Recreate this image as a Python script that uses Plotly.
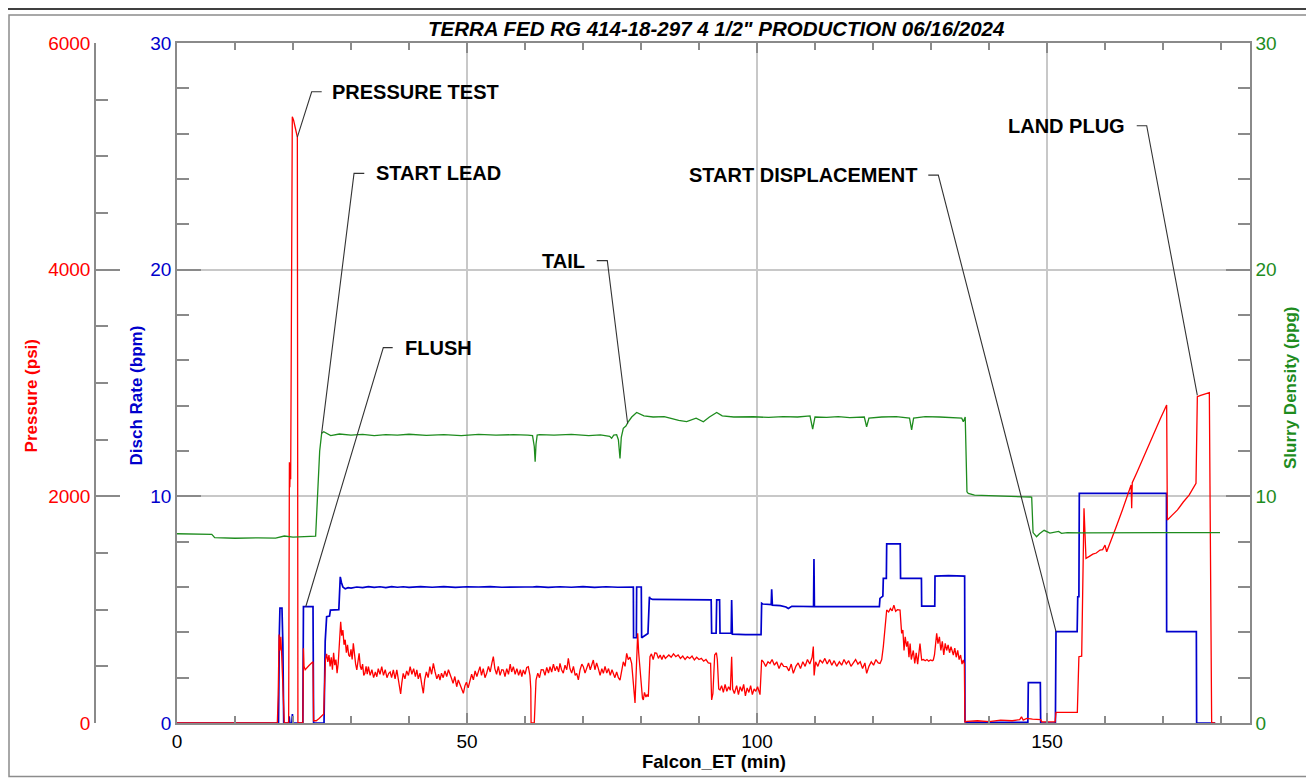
import plotly.graph_objects as go

# ---------------- DATA ----------------
# Pressure (psi) vs Falcon_ET (min), in segments
PRES_T_A = [0, 17.3, 17.45, 17.6, 17.75, 17.9, 18.05, 18.2, 18.35, 18.5, 19.25, 19.3, 19.38, 19.45, 19.52, 19.6,
            19.88, 20.1, 20.4, 20.75, 20.85, 21.7, 21.8, 21.9, 22.1, 22.4, 22.8, 23.2, 23.45, 23.55, 24.0, 24.5,
            25.0, 25.3, 25.45]
PRES_V_A = [0, 0, 250, 780, 640, 760, 600, 330, 100, 0, 0, 2150, 2300, 2080, 2260, 2150,
            5350, 5320, 5250, 5170, 0, 0, 660, 500, 470, 490, 510, 530, 540, 20, 20, 40,
            60, 80, 350]

PRES_T_B1 = [25.6, 25.8, 26.0, 26.2, 26.4, 26.6, 26.8, 27.0, 27.2, 27.4, 27.6, 27.8, 28.0, 28.22, 28.4, 28.6,
             28.8, 29.0, 29.2, 29.4, 29.6, 29.8, 30.0, 30.2, 30.4, 30.6, 30.8, 31.0, 31.2, 31.4, 31.6, 31.8,
             32.0, 32.2, 32.4, 32.6, 32.8, 33.0, 33.3, 33.6, 33.9, 34.2, 34.45, 34.7, 35.0, 35.3, 35.6, 35.9,
             36.2, 36.5, 36.75, 37.0, 37.3, 37.6, 37.9, 38.2, 38.4, 38.56, 38.75, 39.0, 39.3, 39.6, 39.9, 40.2,
             40.5, 40.8, 41.1, 41.35, 41.6, 41.9, 42.2, 42.47, 42.7, 43.0, 43.3, 43.6, 43.9, 44.2, 44.5, 44.8]
PRES_V_B1 = [560, 610, 540, 600, 500, 580, 470, 620, 510, 560, 440, 530, 700, 894, 770, 820,
             690, 735, 620, 690, 600, 585, 650, 560, 703, 580, 520, 468, 540, 615, 500, 470,
             520, 420, 438, 500, 430, 497, 420, 470, 400, 450, 408, 480, 430, 497, 420, 470,
             400, 438, 450, 400, 468, 390, 468, 380, 320, 256, 350, 438, 390, 460, 420, 497,
             430, 480, 410, 468, 390, 440, 340, 262, 380, 450, 400, 497, 430, 526, 450, 390]

PRES_T_B2 = [45.1, 45.34, 45.6, 45.9, 46.2, 46.5, 46.8, 47.07, 47.35, 47.6, 47.9, 48.22, 48.5, 48.8, 49.1, 49.37,
             49.65, 49.9, 50.2, 50.52, 50.8, 51.1, 51.4, 51.7, 52.0, 52.24, 52.5, 52.8, 53.1, 53.39, 53.7, 54.0,
             54.3, 54.54, 54.8, 55.1, 55.4, 55.7, 56.0, 56.26, 56.55, 56.85, 57.15, 57.45, 57.7, 57.99, 58.3, 58.6,
             58.9, 59.2, 59.45, 59.71, 60.0, 60.3, 60.57, 60.85, 61.0, 61.05, 61.6, 61.75, 61.9, 62.2, 62.5, 62.8]
PRES_V_B2 = [430, 379, 440, 400, 460, 410, 470, 438, 390, 350, 410, 320, 380, 340, 300, 262,
             330, 360, 310, 379, 430, 380, 460, 410, 470, 497, 420, 480, 400, 438, 500, 450,
             530, 585, 480, 430, 500, 420, 470, 468, 410, 480, 430, 520, 450, 497, 430, 480,
             420, 470, 410, 468, 430, 490, 497, 420, 300, 0, 0, 250, 379, 440, 400, 470]

PRES_T_B3 = [63.16, 63.45, 63.75, 64.05, 64.31, 64.6, 64.9, 65.2, 65.5, 65.8, 66.03, 66.3, 66.6, 66.9, 67.2, 67.47,
             67.75, 68.05, 68.35, 68.65, 68.91, 69.2, 69.5, 69.8, 70.06, 70.35, 70.65, 70.95, 71.25, 71.5, 71.78, 72.05,
             72.35, 72.65, 72.95, 73.25, 73.51, 73.8, 74.1, 74.4, 74.7, 75.0, 75.23, 75.5, 75.8, 76.1, 76.38, 76.65,
             76.95, 77.25, 77.53, 77.8, 78.1, 78.39, 78.65, 78.85, 78.97, 79.15, 79.3, 79.43, 79.6, 79.83, 80.05, 80.25,
             80.4, 80.6, 80.85, 81.05, 81.26, 81.4, 81.55, 81.8, 82.1, 82.4, 82.7, 83.0, 83.3, 83.6, 83.9, 84.2, 84.43]
PRES_V_B3 = [468, 420, 490, 440, 497, 450, 520, 460, 500, 450, 526, 470, 440, 510, 470, 570,
             480, 440, 500, 420, 438, 380, 470, 520, 497, 440, 490, 530, 470, 520, 556, 470,
             530, 480, 420, 480, 438, 500, 440, 480, 420, 470, 438, 400, 450, 400, 379, 460,
             540, 500, 615, 560, 580, 526, 400, 250, 176, 450, 700, 791, 620, 468, 330, 220,
             203, 270, 230, 250, 232, 400, 585, 610, 560, 620, 615, 570, 600, 560, 600, 570, 585]

PRES_T_C = [84.8, 85.2, 85.6, 86.0, 86.4, 86.8, 87.2, 87.6, 88.0, 88.4,
            88.8, 89.2, 89.6, 90.0, 90.4, 90.8, 91.2, 91.6, 92.0, 92.18,
            92.4, 92.7, 93.0, 93.16, 93.4, 93.62, 93.9, 94.2, 94.5, 94.8,
            95.1, 95.4, 95.63, 95.8, 96.1, 96.49, 96.8, 97.1, 97.4, 97.7,
            98.0, 98.3, 98.6, 98.9, 99.2, 99.5, 99.8, 100.1, 100.52, 100.8,
            101.1, 101.5, 101.9, 102.24, 102.6, 103.0, 103.4, 103.8, 104.2, 104.6,
            105.1, 105.5, 105.9, 106.26, 106.7, 107.1, 107.5, 107.9, 108.3, 108.7,
            109.1, 109.5, 109.71, 109.85, 110.1, 110.5, 110.86, 111.3, 111.7, 112.1,
            112.5, 112.9, 113.3, 113.74, 114.2, 114.6, 115.0, 115.4, 115.8, 116.2,
            116.61, 117.0, 117.4, 117.8, 118.2, 118.6, 118.91, 119.3, 119.7, 120.1,
            120.5, 120.9, 121.21, 121.5, 121.78, 122.0, 122.36, 122.7, 123.0, 123.3,
            123.6, 123.9, 124.2, 124.66, 124.94, 125.15, 125.35, 125.55, 125.8, 126.0,
            126.2, 126.4, 126.6, 126.95, 127.2, 127.45, 127.7, 128.1, 128.39, 128.7,
            129.0, 129.3, 129.6, 129.9, 130.2, 130.4, 130.6, 130.98, 131.2, 131.45,
            131.7, 131.95, 132.2, 132.45, 132.7, 132.95, 133.2, 133.45, 133.85, 134.1,
            134.35, 134.6, 134.85, 135.1, 135.35, 135.57, 135.75, 135.85]
PRES_V_C = [600, 580, 610, 585, 600, 570, 590, 560, 585, 570,
            590, 556, 580, 560, 570, 545, 560, 530, 526, 203,
            260, 600, 620, 560, 300, 291, 330, 270, 340, 280,
            320, 290, 585, 300, 260, 330, 250, 320, 280, 340,
            240, 310, 270, 330, 250, 300, 280, 320, 250, 556,
            540, 500, 540, 526, 560, 510, 540, 480, 530, 500,
            497, 460, 520, 438, 500, 530, 480, 540, 500, 560,
            520, 580, 674, 420, 540, 500, 556, 530, 570, 520,
            560, 510, 550, 500, 540, 510, 560, 520, 550, 500,
            526, 560, 520, 540, 480, 530, 438, 500, 540, 510,
            560, 530, 526, 560, 674, 800, 997, 980, 1010, 990,
            1040, 985, 1000, 997, 791, 820, 640, 760, 674, 720,
            580, 700, 560, 640, 526, 620, 520, 700, 556, 560,
            550, 560, 545, 556, 550, 556, 600, 791, 700, 760,
            640, 720, 600, 703, 640, 690, 620, 674, 600, 660,
            580, 640, 560, 600, 520, 556, 520, 10]

PRES_T_D = [136.2, 138, 140, 142, 144, 145.3, 145.6, 145.9, 146.5, 147.5, 148.9, 149.1, 151.4, 151.55, 153,
            155.23, 155.5, 155.98, 156.38, 156.72, 157.3, 157.9, 158.5, 159.14, 159.6, 160.0, 160.29, 161.0,
            162.0, 163.0, 164.31, 164.5, 164.6, 164.7, 165.5, 166.5, 167.5, 168.5, 169.5, 170.63, 170.75,
            171.5, 172.5, 173.5, 174.5, 175.69, 175.92, 176.5, 177.2, 177.99, 178.39, 179.0]
PRES_V_D = [15, 20, 12, 25, 20, 30, 55, 25, 40, 35, 30, 10, 10, 94, 94,
            94, 585, 590, 1894, 1453, 1470, 1490, 1500, 1526, 1530, 1570, 1511, 1600,
            1740, 1880, 2070, 2100, 1894, 2120, 2210, 2330, 2450, 2560, 2680, 2806, 1791,
            1830, 1880, 1950, 2010, 2115, 2879, 2890, 2900, 2914, 0, 0]

# Discharge rate (bpm)
RATE_T_A = [0, 17.5, 17.65, 17.75, 18.1, 18.25, 18.4, 19.25, 19.35, 19.45, 19.8, 19.9, 20.0, 21.7, 21.8,
            23.45, 23.55, 25.35, 25.55, 25.8, 26.3, 26.45, 27.9, 28.0, 28.15, 28.35, 28.6]
RATE_V_A = [0, 0, 4.0, 5.07, 5.07, 3.5, 0, 0, 0.3, 0, 0, 0.4, 0, 0, 5.13,
            5.13, 0, 0, 3.6, 4.69, 4.72, 4.98, 5.0, 6.1, 6.45, 6.2, 6.0]

RATE_T_B = [29.0, 29.5, 30.0, 31.0, 32.0, 33.0, 34.0, 35.0, 36.0, 37.0, 38.0, 39.0, 40.0, 42.0, 44.0, 46.0,
            48.0, 50.0, 52.0, 54.0, 56.0, 58.0, 60.0, 61.3, 62.0, 64.0, 66.0, 68.0, 70.0, 72.0, 74.0, 76.0,
            78.0, 78.68]
RATE_V_B = [5.92, 5.97, 5.95, 6.0, 5.97, 6.02, 5.98, 6.01, 5.97, 6.02, 5.99, 6.01, 5.98, 6.02, 5.99, 6.02,
            5.98, 6.01, 6.0, 6.02, 5.99, 6.01, 6.0, 6.0, 6.02, 5.98, 6.01, 5.99, 6.02, 5.98, 6.01, 5.99,
            6.0, 6.0]

RATE_T_C = [78.72, 79.2, 79.25, 80.05, 80.11, 80.6, 81.2, 81.45, 81.55, 82.0, 84.0, 86.0, 88.0, 90.0,
            92.1, 92.18, 92.95, 93.05, 93.55, 93.62, 95.55, 95.63, 95.75, 98.0, 100.7, 100.8, 101.0,
            102.45, 102.53, 102.65, 104.0, 105.0, 105.4, 106.0, 109.75, 109.82, 109.9, 112.0, 116.0,
            121.1, 121.2, 121.7, 121.78, 122.3, 122.36, 124.7, 124.75, 128.35, 128.39, 130.65, 130.69,
            133.0, 135.8, 135.86, 136.1, 140.0, 146.7, 146.78, 148.85, 148.91, 151.45, 151.55, 155.2,
            155.3, 155.5, 155.57, 160.0, 165.0, 170.6, 170.63, 175.75, 175.8, 179.0]
RATE_V_C = [3.76, 3.76, 6.0, 6.0, 3.76, 3.85, 3.95, 5.57, 5.5, 5.45, 5.45, 5.42, 5.45, 5.43,
            5.43, 3.96, 3.96, 5.43, 5.43, 3.96, 3.96, 5.43, 3.92, 3.9, 3.9, 5.28, 5.25,
            5.22, 5.9, 5.2, 5.18, 5.12, 5.05, 5.15, 5.13, 7.23, 5.13, 5.13, 5.13,
            5.13, 5.5, 5.6, 6.38, 6.38, 7.9, 7.9, 6.38, 6.38, 5.16, 5.16, 6.48,
            6.5, 6.48, 0.06, 0.03, 0.03, 0.03, 1.78, 1.78, 0.0, 0.0, 4.03, 4.03,
            5.57, 5.57, 10.13, 10.13, 10.1, 10.13, 4.03, 4.03, 0, 0]

# Slurry density (ppg)
DENS_T_A = [0, 3, 6.0, 6.5, 10, 14, 17, 18.5, 20, 23.9, 24.1, 24.6, 24.94, 25.3, 26.5, 28, 30, 32, 34, 36,
            38, 40, 43, 46, 49, 52, 55, 58, 60.5, 61.3, 61.6, 61.75, 61.9, 62.1, 62.5]
DENS_V_A = [8.35, 8.33, 8.32, 8.18, 8.15, 8.17, 8.16, 8.25, 8.2, 8.24, 9.5, 12.0, 12.78, 12.85, 12.68, 12.75,
            12.7, 12.73, 12.68, 12.72, 12.7, 12.74, 12.69, 12.72, 12.68, 12.73, 12.7, 12.72, 12.7, 12.68, 12.2,
            11.53, 12.3, 12.7, 12.72]

DENS_T_B = [65, 68, 71, 73, 74.6, 74.94, 75.3, 75.8, 76.1, 76.38, 76.6, 76.95, 77.4, 77.8, 78.4, 79.25, 80.5,
            82.1, 84.0, 85.0, 86.5, 87.87, 89.5, 90.75, 91.8, 93.05, 94.0, 96.0, 99.37, 102.0, 104.5, 107.0,
            109.14, 109.6, 110.0, 112.0, 114.0, 116.0, 118.5, 118.9, 119.3, 121.5, 124.0, 126.3, 126.66, 127.0,
            129.0, 131.5, 134.0, 135.3, 135.57, 135.9, 136.2, 136.43]
DENS_V_B = [12.7, 12.73, 12.68, 12.71, 12.65, 12.56, 12.7, 12.72, 12.5, 11.67, 12.6, 13.0, 13.1, 13.29, 13.5,
            13.7, 13.55, 13.5, 13.52, 13.45, 13.35, 13.3, 13.45, 13.29, 13.5, 13.7, 13.55, 13.5, 13.51, 13.48,
            13.52, 13.5, 13.55, 12.96, 13.5, 13.48, 13.52, 13.47, 13.5, 13.07, 13.45, 13.5, 13.52, 13.45, 12.93,
            13.45, 13.52, 13.5, 13.48, 13.45, 13.29, 13.5, 10.2, 10.13]

DENS_T_C = [137.5, 140.0, 143.0, 146.0, 147.2, 147.36, 147.6, 148.2, 148.7, 149.5, 150.5, 152.0, 152.5, 153.5,
            156.0, 160.0, 165.0, 170.0, 175.0, 179.83]
DENS_V_C = [10.05, 10.02, 10.0, 9.98, 9.97, 9.96, 8.4, 8.22, 8.35, 8.5, 8.38, 8.45, 8.37, 8.4,
            8.39, 8.4, 8.4, 8.4, 8.4, 8.4]

# Event labels and the data points they mark
EVENT_TEXT = ["PRESSURE TEST", "START LEAD", "FLUSH", "TAIL", "START DISPLACEMENT", "LAND PLUG"]
EVENT_T = [20.75, 24.94, 22.2, 77.7, 151.55, 175.92]
EVENT_V = [5170, 12.78, 5.13, 13.2, 4.03, 2890]
EVENT_AXIS = ["pressure", "density", "rate", "density", "rate", "pressure"]

TITLE = 'TERRA FED RG 414-18-297 4 1/2" PRODUCTION 06/16/2024'

# ---------------- LAYOUT / STYLE ----------------
# label placement (x in minutes, y in rate-axis units): tick far end, tick near end, text x, y, anchor
LBL_FAR = [23.22, 30.52, 35.57, 74.19, 131.26, 167.19]
LBL_NEAR = [24.95, 32.29, 37.19, 72.36, 129.53, 165.47]
LBL_TX = [26.38, 33.97, 38.97, 70.64, 128.1, 163.74]
LBL_Y = [27.85, 24.25, 16.56, 20.4, 24.17, 26.35]
LBL_ANCHOR = ["left", "left", "left", "right", "right", "right"]

RED = "#ff0000"
BLUE = "#0000cc"
GREEN = "#1e8c1e"
AX = "#8a8a8a"
GRID = "#c8c8c8"
FONT = "Arial"

pres_t = PRES_T_A + PRES_T_B1 + PRES_T_B2 + PRES_T_B3 + PRES_T_C + PRES_T_D
pres_v = PRES_V_A + PRES_V_B1 + PRES_V_B2 + PRES_V_B3 + PRES_V_C + PRES_V_D
rate_t = RATE_T_A + RATE_T_B + RATE_T_C
rate_v = RATE_V_A + RATE_V_B + RATE_V_C
dens_t = DENS_T_A + DENS_T_B + DENS_T_C
dens_v = DENS_V_A + DENS_V_B + DENS_V_C

RATE_MAX, PRES_MAX, DENS_MAX = 30, 6000, 30

fig = go.Figure()
fig.add_trace(go.Scatter(x=rate_t, y=rate_v, yaxis="y", mode="lines",
                         line=dict(color=BLUE, width=1.7), hoverinfo="skip"))
fig.add_trace(go.Scatter(x=pres_t, y=pres_v, yaxis="y2", mode="lines",
                         line=dict(color=RED, width=1.3), hoverinfo="skip"))
fig.add_trace(go.Scatter(x=dens_t, y=dens_v, yaxis="y3", mode="lines",
                         line=dict(color=GREEN, width=1.3), hoverinfo="skip"))

# The page body has an 8px margin, so the figure is drawn 8px in from the window corner.
OFF = 8
W, H = 1314 - OFF, 778 - OFF
L, R, T, B = 95 - OFF, 64, 43 - OFF, 55
PW, PH = W - L - R, H - T - B


def px_x(px):  # window pixel -> paper x
    return (px - OFF - L) / PW


def px_y(py):  # window pixel -> paper y
    return (H - B - (py - OFF)) / PH


shapes = []
annotations = []
for i, txt in enumerate(EVENT_TEXT):
    if EVENT_AXIS[i] == "pressure":
        ty = EVENT_V[i] * RATE_MAX / PRES_MAX
    elif EVENT_AXIS[i] == "density":
        ty = EVENT_V[i] * RATE_MAX / DENS_MAX
    else:
        ty = EVENT_V[i]
    path = "M {},{} L {},{} L {},{}".format(EVENT_T[i], ty, LBL_FAR[i], LBL_Y[i], LBL_NEAR[i], LBL_Y[i])
    shapes.append(dict(type="path", xref="x", yref="y", path=path,
                       line=dict(color="#333333", width=1.1)))
    annotations.append(dict(x=LBL_TX[i], y=LBL_Y[i], xref="x", yref="y", text="<b>%s</b>" % txt,
                            showarrow=False, xanchor=LBL_ANCHOR[i], yanchor="middle",
                            font=dict(family=FONT, size=20, color="black")))

annotations += [
    dict(x=px_x(716), y=px_y(28.5), xref="paper", yref="paper", text="<b><i>%s</i></b>" % TITLE,
         showarrow=False, xanchor="center", yanchor="middle", font=dict(family=FONT, size=20.5, color="black")),
    dict(x=px_x(31.7), y=px_y(395.7), xref="paper", yref="paper", text="<b>Pressure (psi)</b>",
         textangle=-90, showarrow=False, xanchor="center", yanchor="middle",
         font=dict(family=FONT, size=17, color=RED)),
    dict(x=px_x(136.7), y=px_y(395.8), xref="paper", yref="paper", text="<b>Disch Rate (bpm)</b>",
         textangle=-90, showarrow=False, xanchor="center", yanchor="middle",
         font=dict(family=FONT, size=17, color=BLUE)),
    dict(x=px_x(1290), y=px_y(388), xref="paper", yref="paper", text="<b>Slurry Density (ppg)</b>",
         textangle=-90, showarrow=False, xanchor="center", yanchor="middle",
         font=dict(family=FONT, size=17, color=GREEN)),
    dict(x=px_x(713.8), y=px_y(761), xref="paper", yref="paper", text="<b>Falcon_ET (min)</b>",
         showarrow=False, xanchor="center", yanchor="middle", font=dict(family=FONT, size=18.5, color="black")),
]

shapes += [
    dict(type="rect", xref="paper", yref="paper", x0=px_x(9), x1=px_x(1311), y0=px_y(776.5), y1=px_y(15),
         line=dict(color="#8c8c8c", width=1.5), layer="below"),
    dict(type="line", xref="paper", yref="paper", x0=px_x(8), x1=px_x(1314), y0=px_y(9), y1=px_y(9),
         line=dict(color="black", width=1.5)),
]

tickfont = dict(family=FONT, size=19)
common_y = dict(ticks="inside", ticklen=24, tickwidth=1.5, tickcolor=AX, showline=True, linecolor=AX,
                linewidth=1.5, zeroline=False, automargin=False, fixedrange=True)

fig.update_layout(
    width=W, height=H,
    margin=dict(l=L, r=R, t=T, b=B, autoexpand=False),
    paper_bgcolor="white", plot_bgcolor="white", showlegend=False,
    xaxis=dict(domain=[px_x(177), 1], range=[0, 185], tick0=0, dtick=50, ticks="inside", ticklen=10,
               tickwidth=1.5, tickcolor=AX,
               minor=dict(dtick=10, tick0=0, ticks="inside", ticklen=7, tickwidth=1.5, tickcolor=AX),
               showline=True, linecolor=AX, linewidth=1.5, mirror="ticks", showgrid=True, gridcolor=GRID,
               gridwidth=1.5, zeroline=False, tickfont=dict(tickfont, color="black"), anchor="y",
               automargin=False, fixedrange=True),
    yaxis=dict(range=[0, RATE_MAX], tick0=0, dtick=10, anchor="x", side="left",
               minor=dict(dtick=2, ticks="inside", ticklen=12, tickwidth=1.5, tickcolor=AX),
               showgrid=True, gridcolor=GRID, gridwidth=1.5, tickfont=dict(tickfont, color=BLUE), **common_y),
    yaxis2=dict(range=[0, PRES_MAX], tick0=0, dtick=2000, overlaying="y", anchor="free", position=0, side="left",
                minor=dict(dtick=500, ticks="inside", ticklen=12, tickwidth=1.5, tickcolor=AX),
                showgrid=False, tickfont=dict(tickfont, color=RED), **common_y),
    yaxis3=dict(range=[0, DENS_MAX], tick0=0, dtick=10, overlaying="y", anchor="x", side="right",
                minor=dict(dtick=2, ticks="inside", ticklen=12, tickwidth=1.5, tickcolor=AX),
                showgrid=False, tickfont=dict(tickfont, color=GREEN), **common_y),
    shapes=shapes,
    annotations=annotations,
)

fig.write_html("out.html")
